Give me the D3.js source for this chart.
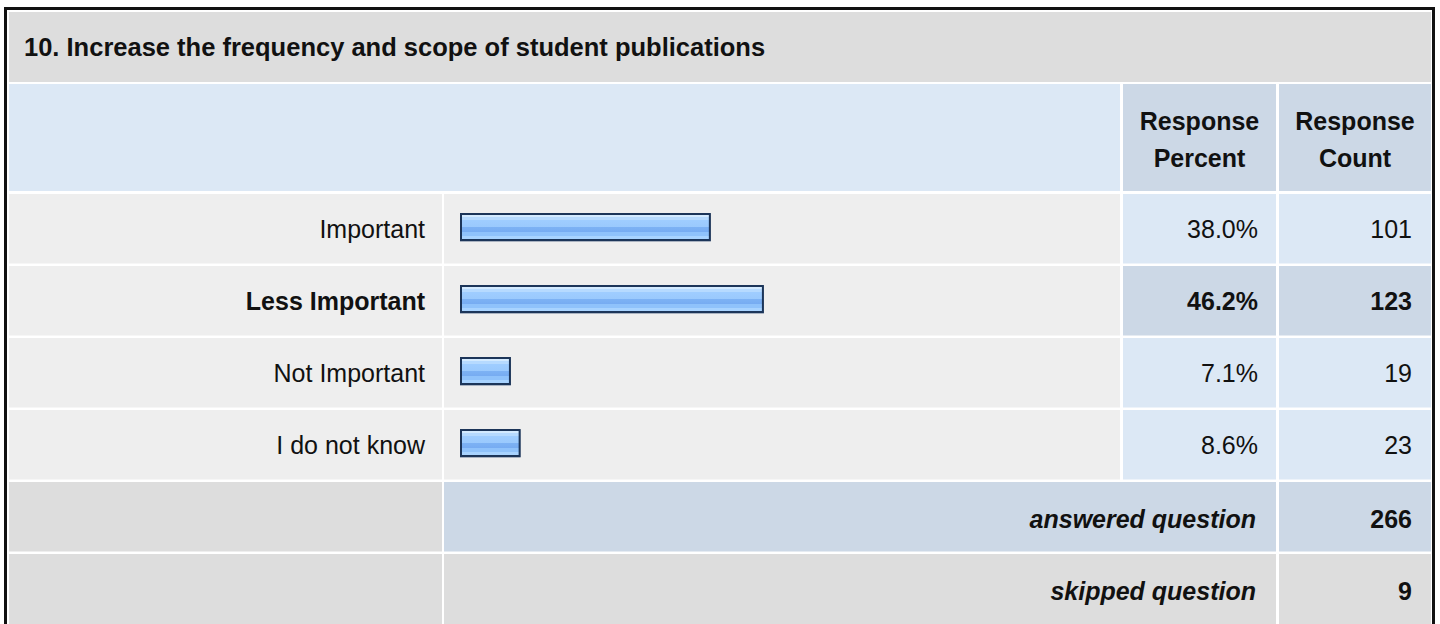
<!DOCTYPE html>
<html>
<head>
<meta charset="utf-8">
<script src="https://cdn.jsdelivr.net/npm/d3@7"></script>
<style>
  html, body { margin: 0; padding: 0; background: #ffffff; }
  svg { display: block; }
  text { font-family: "Liberation Sans", Arial, sans-serif; fill: #111; }
</style>
</head>
<body>
<div id="chart"></div>
<script>
// ---- data ----
const title = "10. Increase the frequency and scope of student publications";
const categories = ["Important", "Less Important", "Not Important", "I do not know"];
const percents = [38.0, 46.2, 7.1, 8.6];
const counts = [101, 123, 19, 23];
const headerLabels = [["Response", "Percent"], ["Response", "Count"]];
const footerLabels = ["answered question", "skipped question"];
const footerValues = [266, 9];

// ---- layout ----
const W = 1440, H = 624;
const svg = d3.select("#chart").append("svg").attr("width", W).attr("height", H);

const C = {
  title: "#dddddd", headLight: "#dce8f5", headDark: "#ccd8e6",
  row: "#eeeeee", cellLight: "#dce8f5", cellDark: "#ccd8e6", foot: "#dddddd"
};
const FS = 25;
const col = { l0: 9, l1: 442, b0: 444, b1: 1120, p0: 1123, p1: 1276, c0: 1279, c1: 1431 };

// gradient for bars
const defs = svg.append("defs");
const g = defs.append("linearGradient").attr("id", "barGrad")
  .attr("x1", 0).attr("y1", 0).attr("x2", 0).attr("y2", 1);
const stops = [
  [0, "#d3eaff"], [0.12, "#d3eaff"], [0.12, "#b6daff"], [0.25, "#b6daff"],
  [0.25, "#9fcdff"], [0.5, "#9ac9fd"], [0.5, "#7db2f4"], [0.68, "#77acf2"],
  [0.68, "#8fc2fb"], [0.84, "#8fc2fb"], [0.84, "#a8d3ff"], [1, "#a8d3ff"]
];
stops.forEach(s => g.append("stop").attr("offset", s[0]).attr("stop-color", s[1]));

// outer frame
svg.append("rect").attr("x", 5.5).attr("y", 8.5).attr("width", 1428).attr("height", 700)
  .attr("fill", "#ffffff").attr("stroke", "#111").attr("stroke-width", 3);

// title row
svg.append("rect").attr("x", col.l0).attr("y", 12).attr("width", col.c1 - col.l0).attr("height", 70).attr("fill", C.title);
svg.append("text").attr("x", 24).attr("y", 56).attr("font-size", 25.5).attr("font-weight", "bold").text(title);

// header row
svg.append("rect").attr("x", col.l0).attr("y", 84).attr("width", col.b1 - col.l0).attr("height", 107).attr("fill", C.headLight);
[[col.p0, col.p1], [col.c0, col.c1]].forEach((c, i) => {
  svg.append("rect").attr("x", c[0]).attr("y", 84).attr("width", c[1] - c[0]).attr("height", 107).attr("fill", C.headDark);
  headerLabels[i].forEach((t, j) => {
    svg.append("text").attr("x", (c[0] + c[1]) / 2).attr("y", 130 + j * 37)
      .attr("text-anchor", "middle").attr("font-size", FS).attr("font-weight", "bold").text(t);
  });
});

// row scale
const rowKeys = categories.concat(footerLabels);
const y = d3.scaleBand().domain(rowKeys).range([194, 623.5]).paddingInner(2.5 / 72).paddingOuter(0);
const x = d3.scaleLinear().domain([0, 100]).range([0, 647]);

const maxIdx = percents.indexOf(d3.max(percents));
const fmtPct = d3.format(".1f");

const rows = svg.selectAll("g.row").data(categories).join("g").attr("class", "row")
  .attr("transform", d => `translate(0,${y(d)})`);
const bh = y.bandwidth();

rows.each(function (d, i) {
  const r = d3.select(this);
  const bold = i === maxIdx;
  r.append("rect").attr("x", col.l0).attr("width", col.l1 - col.l0).attr("height", bh).attr("fill", C.row);
  r.append("rect").attr("x", col.b0).attr("width", col.b1 - col.b0).attr("height", bh).attr("fill", C.row);
  r.append("rect").attr("x", col.p0).attr("width", col.p1 - col.p0).attr("height", bh).attr("fill", bold ? C.cellDark : C.cellLight);
  r.append("rect").attr("x", col.c0).attr("width", col.c1 - col.c0).attr("height", bh).attr("fill", bold ? C.cellDark : C.cellLight);

  r.append("text").attr("x", 425).attr("y", 43.5).attr("text-anchor", "end")
    .attr("font-size", FS).attr("font-weight", bold ? "bold" : "normal").text(d);
  r.append("text").attr("x", 1258).attr("y", 43.5).attr("text-anchor", "end")
    .attr("font-size", FS).attr("font-weight", bold ? "bold" : "normal").text(fmtPct(percents[i]) + "%");
  r.append("text").attr("x", 1412).attr("y", 43.5).attr("text-anchor", "end")
    .attr("font-size", FS).attr("font-weight", bold ? "bold" : "normal").text(counts[i]);

  // bar
  const bw = x(percents[i]) + 5;
  const bx = 460, by = 19, bhh = 28;
  r.append("rect").attr("x", bx).attr("y", by + 1).attr("width", bw).attr("height", bhh)
    .attr("fill", "#8c98ad").attr("opacity", 0.7);
  r.append("rect").attr("x", bx + 1).attr("y", by + 1).attr("width", bw - 2).attr("height", bhh - 2)
    .attr("fill", "url(#barGrad)").attr("stroke", "#1c3559").attr("stroke-width", 2);
});

// footer rows
footerLabels.forEach((lab, i) => {
  const r = svg.append("g").attr("transform", `translate(0,${y(lab)})`);
  const mid = i === 0 ? C.cellDark : C.foot;
  const hh = bh + (i === 1 ? 10 : 0);
  r.append("rect").attr("x", col.l0).attr("width", col.l1 - col.l0).attr("height", hh).attr("fill", C.foot);
  r.append("rect").attr("x", col.b0).attr("width", col.p1 - col.b0).attr("height", hh).attr("fill", mid);
  r.append("rect").attr("x", col.c0).attr("width", col.c1 - col.c0).attr("height", hh).attr("fill", mid);
  r.append("text").attr("x", 1256).attr("y", 46).attr("text-anchor", "end")
    .attr("font-size", FS).attr("font-weight", "bold").attr("font-style", "italic").text(lab);
  r.append("text").attr("x", 1412).attr("y", 46).attr("text-anchor", "end")
    .attr("font-size", FS).attr("font-weight", "bold").text(footerValues[i]);
});
</script>
</body>
</html>
